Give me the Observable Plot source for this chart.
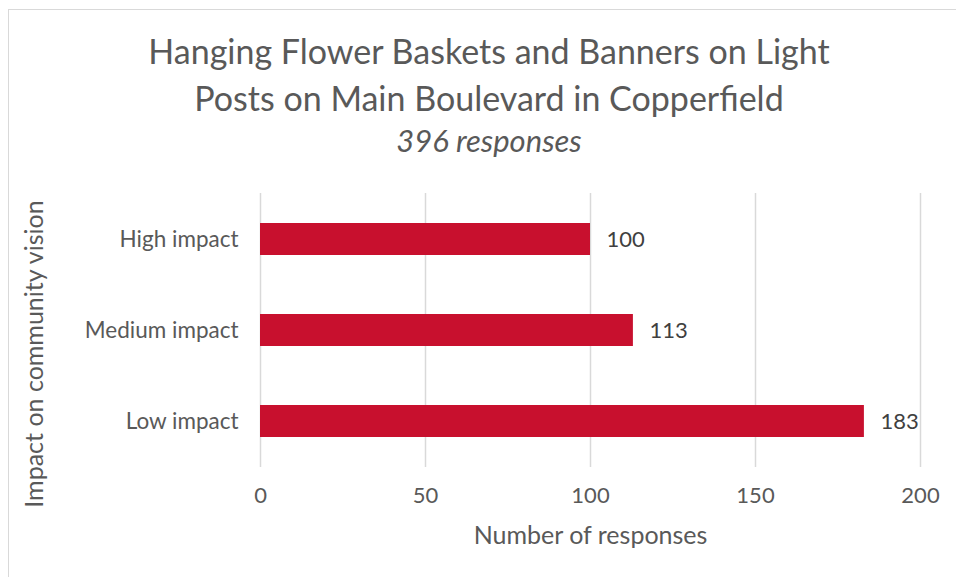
<!DOCTYPE html>
<html><head><meta charset="utf-8">
<script src="https://cdn.jsdelivr.net/npm/d3@7"></script>
<script src="https://cdn.jsdelivr.net/npm/@observablehq/plot@0.6"></script>
<style>
html,body{margin:0;padding:0;background:#fff;}
#wrap{position:relative;width:956px;height:577px;overflow:hidden;font-family:Lato,"Open Sans",sans-serif;color:#595959;}
#frame{position:absolute;left:8px;top:9px;width:1000px;height:1000px;border:1.5px solid #d9d9d9;box-sizing:border-box;}
.t{position:absolute;left:0;width:978px;text-align:center;white-space:nowrap;}
#plot{position:absolute;left:0;top:0;}
#ylab{position:absolute;left:33px;top:354px;font-size:25px;white-space:nowrap;transform:translate(-50%,-50%) rotate(-90deg);}
</style></head><body>
<div id="wrap">
<div id="frame"></div>
<div class="t" id="t1" style="top:30px;font-size:34px;">Hanging Flower Baskets and Banners on Light</div>
<div class="t" id="t2" style="top:77px;font-size:34px;">Posts on Main Boulevard in Copperfield</div>
<div class="t" id="t3" style="top:121px;font-size:31px;font-style:italic;">396 responses</div>
<div id="plot"></div>
<div id="ylab"></div>
</div>
<script>
const categories = ["High impact", "Medium impact", "Low impact"];
const responses = [100, 113, 183];
const xTicks = [0, 50, 100, 150, 200];
const xLabel = "Number of responses";
const yLabel = "Impact on community vision";

const data = categories.map((c, i) => ({category: c, value: responses[i]}));

const chart = Plot.plot({
  width: 956,
  height: 577,
  marginLeft: 260,
  marginRight: 36,
  marginTop: 193,
  marginBottom: 110,
  style: {fontFamily: "Lato, 'Open Sans', sans-serif", fontSize: "22px", color: "#595959", background: "transparent", overflow: "visible"},
  x: {domain: [0, 200], ticks: xTicks, label: null},
  y: {domain: categories, paddingInner: 0.65, paddingOuter: 0.325, label: null},
  marks: [
    Plot.ruleX(xTicks, {stroke: "#d9d9d9", strokeWidth: 1.5}),
    Plot.barX(data, {y: "category", x: "value", fill: "#C8102E"}),
    Plot.text(data, {y: "category", x: "value", text: d => String(d.value), textAnchor: "start", dx: 16, fill: "#404040", fontSize: 22}),
    Plot.axisX({ticks: xTicks, tickSize: 0, tickPadding: 20, fontSize: 22, fill: "#595959", label: null}),
    Plot.axisY({tickSize: 0, tickPadding: 22, fontSize: 22.5, fill: "#595959", label: null}),
    Plot.text([xLabel], {frameAnchor: "bottom", dy: 76, fontSize: 25, fill: "#595959"})
  ]
});
document.getElementById("plot").appendChild(chart);
document.getElementById("ylab").textContent = yLabel;
</script>
</body></html>
